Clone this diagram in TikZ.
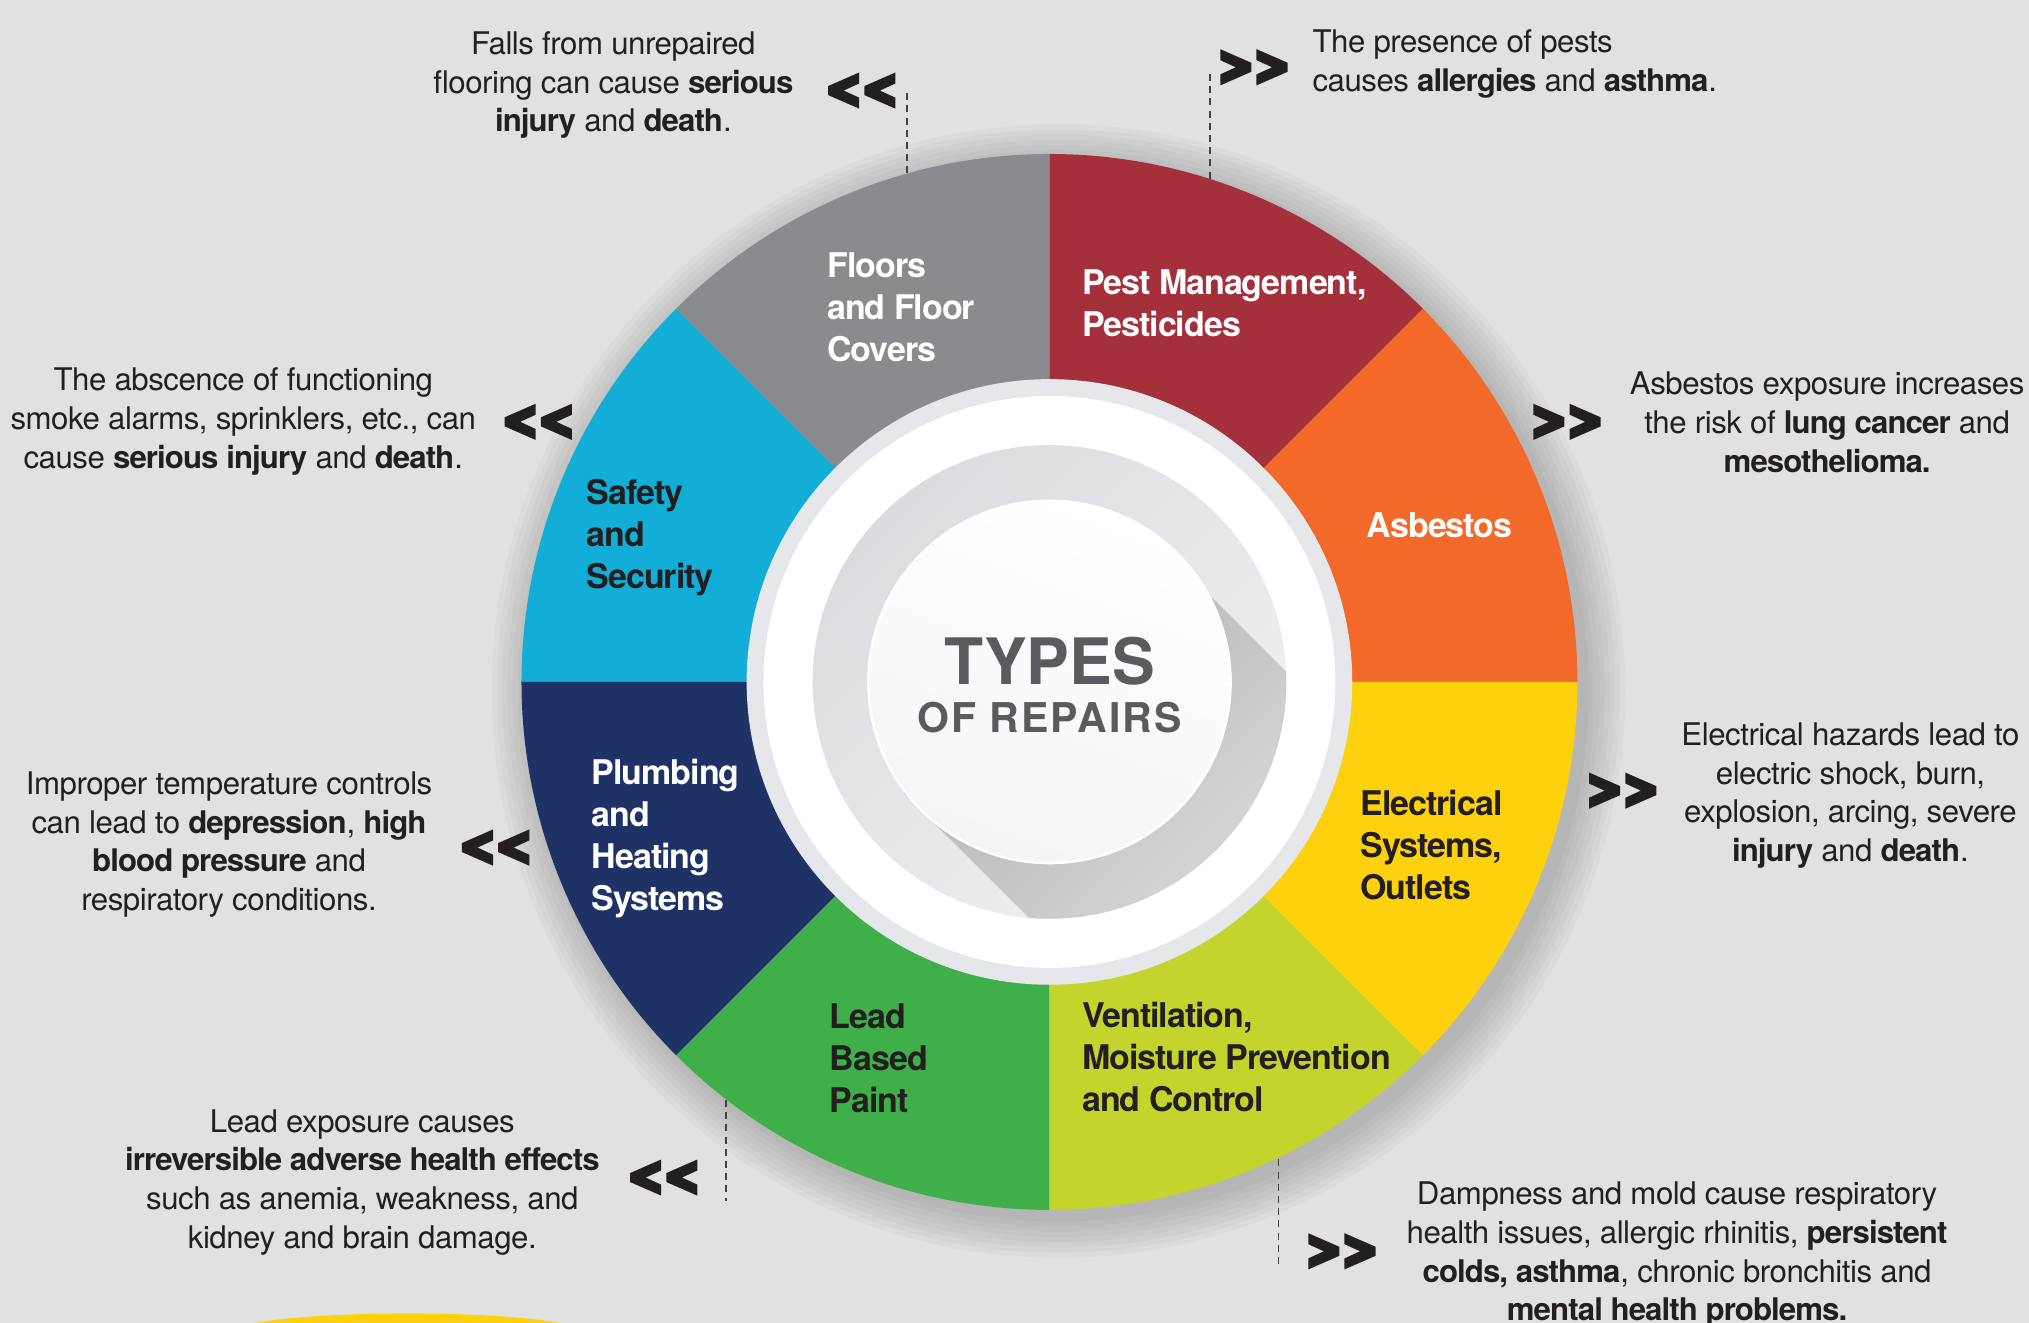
\documentclass[tikz,border=0pt]{standalone}
\usepackage{fontspec}
\setmainfont{TeX Gyre Heros}
\usetikzlibrary{calc}
\definecolor{bg}{HTML}{E1E1E1}
\definecolor{cgray}{HTML}{8A8B8F}
\definecolor{cred}{HTML}{A3303A}
\definecolor{corange}{HTML}{F2692A}
\definecolor{cyellow}{HTML}{FDD10E}
\definecolor{clime}{HTML}{C3D52D}
\definecolor{cgreen}{HTML}{3EAF49}
\definecolor{cnavy}{HTML}{1E3266}
\definecolor{ccyan}{HTML}{12AED8}
\definecolor{ink}{HTML}{231F20}
\definecolor{titlec}{HTML}{5B5A5F}
\definecolor{ringc}{HTML}{E6E7EA}
\definecolor{discA}{HTML}{DBDCDF}
\definecolor{discB}{HTML}{F0F1F3}
\definecolor{shA}{HTML}{B2B2B2}
\definecolor{shB}{HTML}{E2E3E5}
\newcommand{\hb}[1]{{\bfseries\addfontfeatures{LetterSpace=-3}#1}}
\begin{document}
\begin{tikzpicture}[x=0.647pt,y=0.647pt,
  desc/.style={inner sep=0pt, align=center, text=ink, font=\fontsize{15.6}{19.4}\selectfont\addfontfeatures{LetterSpace=-1.5}},
  seglabel/.style={inner sep=0pt, align=left, anchor=north west, font=\fontsize{17}{21}\selectfont\bfseries\addfontfeatures{LetterSpace=-3}},
  chev/.pic={\fill[ink] (-26,14) -- (-2,3.5) -- (-2,-3.5) -- (-26,-14) -- (-26,-5.5) -- (-14,0) -- (-26,5.5) -- cycle;
             \fill[ink] (2,14) -- (26,3.5) -- (26,-3.5) -- (2,-14) -- (2,-5.5) -- (14,0) -- (2,5.5) -- cycle;},
  lead/.style={ink!85, line width=0.7pt, dash pattern=on 3.5pt off 2.6pt},
]
\fill[bg] (0,0) rectangle (1568,-1022.4);
\useasboundingbox (0,0) rectangle (1568,-1022.4);
\coordinate (C) at (811,-527);
% bottom yellow shape
\fill[cyellow] (315,-1031) ellipse[x radius=140, y radius=16];
% soft wheel shadow
\foreach \r in {410,414,...,438}
  \fill[black, opacity=0.022] ($(C)+(7,-7)$) circle[radius=\r];
% segments
\foreach \a/\c in {0/corange, 45/cred, 90/cgray, 135/ccyan, 180/cnavy, 225/cgreen, 270/clime, 315/cyellow}
  \fill[\c] (C) -- +(\a:408) arc[start angle=\a, end angle=\a+45, radius=408] -- cycle;
% rings
\fill[ringc] (C) circle[radius=234];
\fill[white] (C) circle[radius=221];
\shade[top color=discA, bottom color=discB, shading angle=45] (C) circle[radius=183];
\begin{scope}
  \clip (C) circle[radius=183];
  \shade[top color=shA, bottom color=shB, shading angle=45] (937,-462) -- (1087,-612) -- (849,-763) -- (698.7,-613) -- cycle;
\end{scope}
\shade[top color=white, bottom color=black!4, shading angle=-20] (C) circle[radius=140];
\draw[white, line width=1.2pt] (C) circle[radius=140];
% title
\node[anchor=base, inner sep=0pt, text=titlec, font=\fontsize{32}{32}\selectfont\bfseries] (title) at (811,-529) {TYPES};
\node[anchor=base, inner sep=0pt, text=titlec, font=\fontsize{20.5}{20.5}\selectfont\bfseries\addfontfeatures{LetterSpace=5}] (subtitle) at (811,-566) {OF REPAIRS};
% segment labels
\node[seglabel, text=white] (sFloor) at (639,-195) {Floors\\and Floor\\Covers};
\node[seglabel, text=white] (sPest) at (836,-208) {Pest Management,\\Pesticides};
\node[seglabel, text=white] (sAsb) at (1056,-396) {Asbestos};
\node[seglabel, text=ink] (sElec) at (1051,-610) {Electrical\\Systems,\\Outlets};
\node[seglabel, text=ink] (sVent) at (836,-774) {Ventilation,\\Moisture Prevention\\and Control};
\node[seglabel, text=ink] (sLead) at (641,-775) {Lead\\Based\\Paint};
\node[seglabel, text=white] (sPlumb) at (457,-586) {Plumbing\\and\\Heating\\Systems};
\node[seglabel, text=ink] (sSafe) at (453,-370) {Safety\\and\\Security};
% descriptions
\node[desc, anchor=north] (d1) at (474,-24) {Falls from unrepaired\\flooring can cause \hb{serious}\\\hb{injury} and \hb{death}.};
\node[desc, align=left, anchor=north west] (d2) at (1014,-23) {The presence of pests\\causes \hb{allergies} and \hb{asthma}.};
\node[desc, anchor=north] (d3) at (188,-284) {The abscence of functioning\\smoke alarms, sprinklers, etc., can\\cause \hb{serious injury} and \hb{death}.};
\node[desc, anchor=north] (d4) at (1412,-287) {Asbestos exposure increases\\the risk of \hb{lung cancer} and\\\hb{mesothelioma.}};
\node[desc, anchor=north] (d5) at (177,-596) {Improper temperature controls\\can lead to \hb{depression}, \hb{high}\\\hb{blood pressure} and\\respiratory conditions.};
\node[desc, anchor=north] (d6) at (1430,-558) {Electrical hazards lead to\\electric shock, burn,\\explosion, arcing, severe\\\hb{injury} and \hb{death}.};
\node[desc, anchor=north] (d7) at (280,-857) {Lead exposure causes\\\hb{irreversible adverse health effects}\\such as anemia, weakness, and\\kidney and brain damage.};
\node[desc, anchor=north] (d8) at (1296,-913) {Dampness and mold cause respiratory\\health issues, allergic rhinitis, \hb{persistent}\\\hb{colds, asthma}, chronic bronchitis and\\\hb{mental health problems.}};
% chevrons
\pic[xscale=-1] at (666,-70) {chev};
\pic at (969,-52) {chev};
\pic[xscale=-1] at (416,-326) {chev};
\pic at (1211,-326) {chev};
\pic[xscale=-1] at (383,-655) {chev};
\pic at (1254,-611) {chev};
\pic[xscale=-1] at (513,-910) {chev};
\pic at (1037,-967) {chev};
% dashed leaders
\coordinate (r1) at (701,-134); \coordinate (e1) at (701,-70);
\coordinate (r2) at (935,-138); \coordinate (e2) at (935,-55);
\coordinate (r7) at (561,-850); \coordinate (e7) at (561,-928);
\coordinate (r8) at (988,-896); \coordinate (e8) at (988,-977);
\draw[lead] (r1) -- (e1);
\draw[lead] (r2) -- (e2);
\draw[lead] (r7) -- (e7);
\draw[lead] (r8) -- (e8);
\end{tikzpicture}
\end{document}
